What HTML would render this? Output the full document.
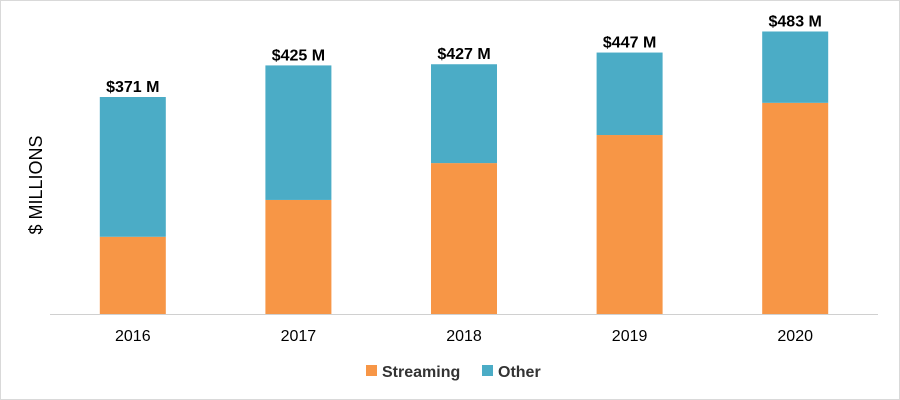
<!DOCTYPE html>
<html><head><meta charset="utf-8"><style>
html,body{margin:0;padding:0;background:#fff}
svg{display:block;font-family:"Liberation Sans",Arial,sans-serif}
</style></head><body>
<svg id="chart" width="900" height="400">
<rect x="0.5" y="0.5" width="899" height="399" fill="#fff" stroke="#d9d9d9"/>
<text x="42" y="185" transform="rotate(-90 42 185)" text-anchor="middle" font-size="18" fill="#000">$ MILLIONS</text>
<line x1="50" y1="314.5" x2="878" y2="314.5" stroke="#d0d0d0" stroke-width="1"/>
<g id="bars"></g>
<g>
<rect x="366" y="365" width="11" height="11" fill="#f79646"/>
<text x="382" y="377" font-size="16" font-weight="bold" fill="#333">Streaming</text>
<rect x="482" y="365" width="11" height="11" fill="#4bacc6"/>
<text x="498" y="377" font-size="16" font-weight="bold" fill="#333">Other</text>
</g>
</svg>
<script>
const categories = ["2016","2017","2018","2019","2020"];
const streaming = [132,195,258,306,361];
const totals = [371,425,427,447,483];
const totalLabels = ["$371 M","$425 M","$427 M","$447 M","$483 M"];
const ns="http://www.w3.org/2000/svg";
const g=document.getElementById('bars');
const x0=50,x1=878,base=314,scale=217/371;
const band=(x1-x0)/categories.length, bw=66;
function xc(i){return x0+band*(i+0.5);}
function y(v){return base-v*scale;}
function mk(t,a){const e=document.createElementNS(ns,t);for(const k in a)e.setAttribute(k,a[k]);return e;}
categories.forEach((c,i)=>{
  const cx=xc(i);
  const s=mk('rect',{x:cx-bw/2,y:y(streaming[i]),width:bw,height:streaming[i]*scale,fill:'#f79646'});
  
  
  g.appendChild(s);
  const o=mk('rect',{x:cx-bw/2,y:y(totals[i]),width:bw,height:(totals[i]-streaming[i])*scale,fill:'#4bacc6'});
  
  
  g.appendChild(o);
  const t=mk('text',{x:cx,y:y(totals[i])-5,'text-anchor':'middle','font-size':16,'font-weight':'bold',fill:'#000'});
  t.textContent=totalLabels[i];
  
  
  g.appendChild(t);
  const l=mk('text',{x:cx,y:341,'text-anchor':'middle','font-size':16,fill:'#000'});
  l.textContent=c;
  
  
  g.appendChild(l);
});
</script>
</body></html>
